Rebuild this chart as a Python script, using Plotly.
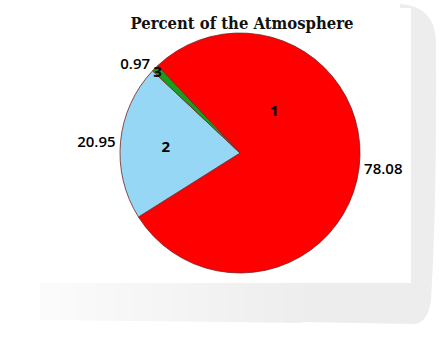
import plotly.graph_objects as go

labels = ["1", "2", "3"]
values = [78.08, 20.95, 0.97]
value_text = ["78.08", "20.95", "0.97"]
colors = ["#ff0000", "#96d7f5", "#1a9e1a"]
title_text = "Percent of the Atmosphere"

W, H = 441, 341
def px(x): return x / W
def py(y): return 1 - y / H

cx, cy, r = 240, 153, 120
dom_x = [px(cx - r), px(cx + r)]
dom_y = [py(cy + r), py(cy - r)]

fig = go.Figure()

fig.add_trace(go.Pie(
    labels=labels, values=values, sort=False, direction="clockwise",
    rotation=-43.3,
    marker=dict(colors=colors, line=dict(color="#7a2020", width=0.8)),
    texttemplate=["", "<b>%{label}</b>", "<b>%{label}</b>"],
    textposition="inside", insidetextorientation="horizontal",
    textfont=dict(family="Open Sans", size=15, color="#000"),
    domain=dict(x=dom_x, y=dom_y), showlegend=False, hoverinfo="skip",
))
fig.add_trace(go.Pie(
    labels=labels, values=values, sort=False, direction="clockwise",
    rotation=-43.3,
    marker=dict(colors=["rgba(0,0,0,0)"] * 3, line=dict(width=0)),
    text=value_text, texttemplate="%{text}",
    textposition="outside",
    outsidetextfont=dict(family="Open Sans", size=15, color="#000", weight=600),
    domain=dict(x=dom_x, y=dom_y), showlegend=False, hoverinfo="skip",
))

shapes = [
    dict(type="path", xref="paper", yref="paper", layer="below",
         path=f"M {px(300)},{py(283)} L {px(300)},{py(322)} "
              f"L {px(415)},{py(324)} Q {px(428)},{py(322)} {px(431)},{py(300)} "
              f"Q {px(437)},{py(200)} {px(436)},{py(40)} "
              f"Q {px(434)},{py(6)} {px(400)},{py(4)} L {px(400)},{py(283)} Z",
         fillcolor="#ededed", line=dict(width=0)),
]
n = 14
x0s, x1s = 40, 302
for i in range(n):
    a = x0s + (x1s - x0s) * i / n
    b = x0s + (x1s - x0s) * (i + 1) / n + 0.5
    g = int(round(252 - (252 - 237) * (i + 0.5) / n))
    shapes.append(dict(type="rect", xref="paper", yref="paper", layer="below",
                       x0=px(a), x1=px(b), y0=py(323 - 3 * (1 - i / n)), y1=py(283),
                       fillcolor=f"rgb({g},{g},{g})", line=dict(width=0)))
shapes.append(dict(type="rect", xref="paper", yref="paper", layer="below",
                   x0=px(38), x1=px(411), y0=py(283), y1=py(8),
                   fillcolor="white", line=dict(width=0)))

fig.update_layout(
    width=W, height=H, margin=dict(l=0, r=0, t=0, b=0),
    paper_bgcolor="white", plot_bgcolor="white",
    title=dict(text=title_text, x=px(242), xanchor="center", y=py(23), yanchor="middle",
               font=dict(family="DejaVu Serif Condensed, DejaVu Serif", size=16.5, color="#111",
                         weight="bold")),
    shapes=shapes,
    uniformtext=dict(minsize=15, mode="show"),
    annotations=[dict(text="<b>1</b>", x=px(274), y=py(98), xref="paper", yref="paper",
                      showarrow=False, font=dict(family="Open Sans", size=15, color="#000"))],
)

fig.write_html("out.html")
